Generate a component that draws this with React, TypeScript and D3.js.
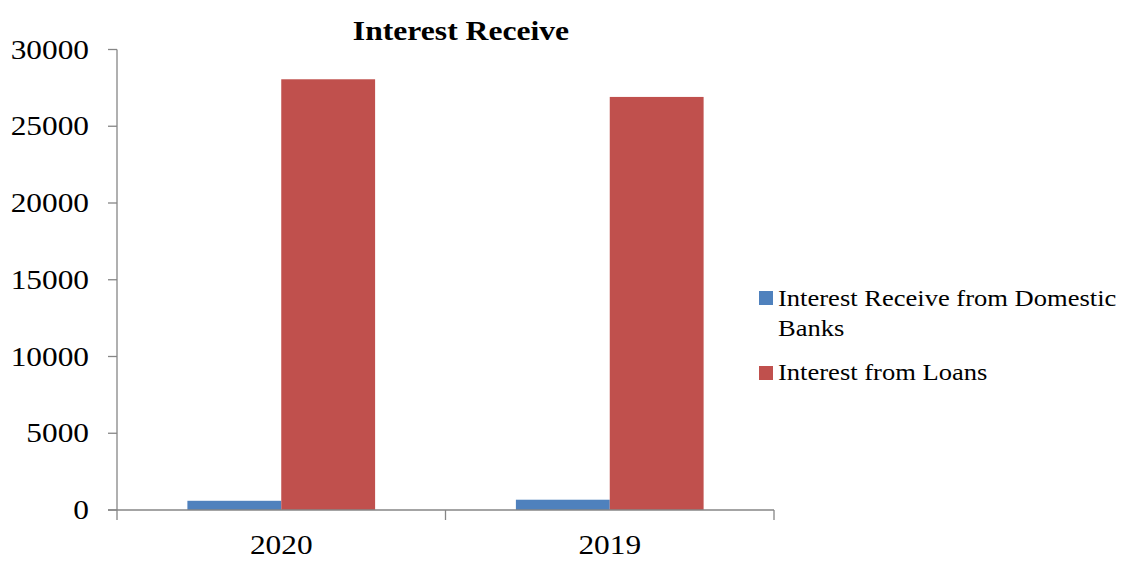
import React, { useEffect } from "react";
import * as d3 from "d3";

const categories = ["2020", "2019"];
const seriesNames = ["Interest Receive from Domestic Banks", "Interest from Loans"];
const domesticBanks = [600, 670];
const loans = [28060, 26910];
const yTicks = [0, 5000, 10000, 15000, 20000, 25000, 30000];
const colors = ["#4F81BD", "#C0504D"];

const W = 1121;
const H = 562;
const FONT = "'Liberation Serif', 'Times New Roman', serif";

export default function App() {
  useEffect(() => {
    document.body.style.margin = "0";
  }, []);

  const values = [domesticBanks, loans];
  const x0 = d3.scaleBand<string>().domain(categories).range([117, 774]).paddingInner(0).paddingOuter(0);
  const x1 = d3
    .scaleBand<string>()
    .domain(seriesNames)
    .range([0, x0.bandwidth()])
    .paddingInner(0)
    .paddingOuter(0.75);
  const y = d3.scaleLinear().domain([0, 30000]).range([510, 49.5]);
  const axisColor = "#868686";

  const catTicks = [117, ...categories.map((c) => (x0(c) as number) + x0.bandwidth())];

  return (
    <svg width={W} height={H} style={{ display: "block", background: "#fff" }} fontFamily={FONT}>
      {/* title */}
      <text
        transform={`translate(461,40) scale(1.13,1)`}
        textAnchor="middle"
        fontSize={28}
        fontWeight="bold"
        fill="#000"
      >
        Interest Receive
      </text>

      {/* bars */}
      {categories.map((c, ci) =>
        seriesNames.map((s, si) => {
          const v = values[si][ci];
          const bx = (x0(c) as number) + (x1(s) as number);
          return (
            <rect
              key={c + s}
              x={bx}
              y={y(v)}
              width={x1.bandwidth()}
              height={y(0) - y(v)}
              fill={colors[si]}
            />
          );
        })
      )}

      {/* y axis */}
      <line x1={117} x2={117} y1={y(30000)} y2={y(0)} stroke={axisColor} strokeWidth={1.3} />
      {yTicks.map((t) => (
        <g key={t}>
          <line x1={108} x2={117} y1={y(t)} y2={y(t)} stroke={axisColor} strokeWidth={1.3} />
          <text
            transform={`translate(89,${y(t) + 9}) scale(1.14,1)`}
            textAnchor="end"
            fontSize={27.5}
            fill="#000"
          >
            {t}
          </text>
        </g>
      ))}

      {/* x axis */}
      <line x1={108} x2={774} y1={y(0)} y2={y(0)} stroke={axisColor} strokeWidth={1.3} />
      {catTicks.map((tx, i) => (
        <line key={i} x1={tx} x2={tx} y1={y(0)} y2={y(0) + 10} stroke={axisColor} strokeWidth={1.3} />
      ))}
      {categories.map((c) => (
        <text
          key={c}
          transform={`translate(${(x0(c) as number) + x0.bandwidth() / 2},554) scale(1.14,1)`}
          textAnchor="middle"
          fontSize={27.5}
          fill="#000"
        >
          {c}
        </text>
      ))}

      {/* legend */}
      <rect x={759} y={291} width={14} height={14} fill={colors[0]} />
      <text transform={`translate(778,306) scale(1.13,1)`} fontSize={23.5} fill="#000">
        Interest Receive from Domestic
      </text>
      <text transform={`translate(778,336) scale(1.13,1)`} fontSize={23.5} fill="#000">
        Banks
      </text>
      <rect x={759} y={366} width={14} height={14} fill={colors[1]} />
      <text transform={`translate(778,380) scale(1.13,1)`} fontSize={23.5} fill="#000">
        {seriesNames[1]}
      </text>
    </svg>
  );
}
